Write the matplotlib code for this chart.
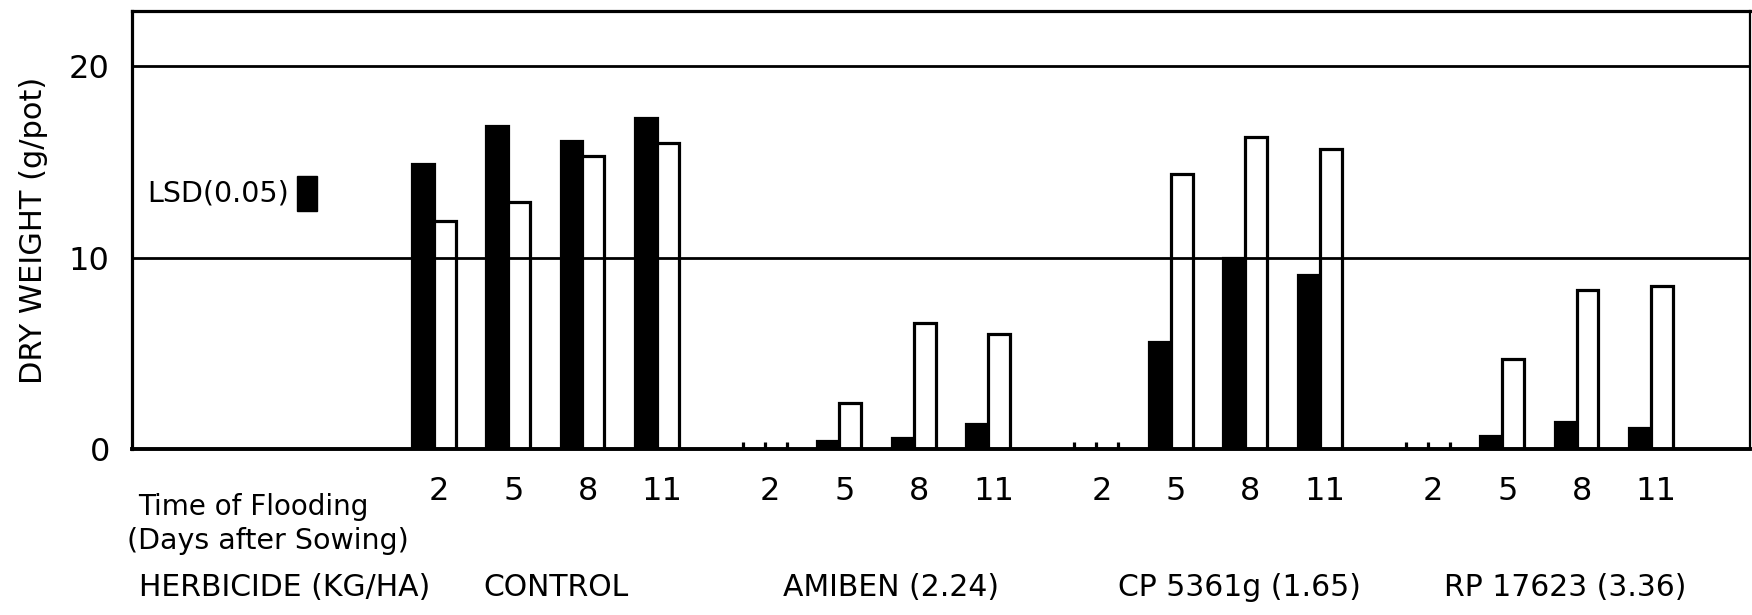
import matplotlib
matplotlib.use("Agg")
import matplotlib.pyplot as plt
import numpy as np

# ---- data ----
groups = ["CONTROL", "AMIBEN (2.24)", "CP 5361g (1.65)", "RP 17623 (3.36)"]
times = ["2", "5", "8", "11"]
black_vals = [
    [14.9, 16.9, 16.1, 17.3],   # CONTROL
    [0.0, 0.4, 0.6, 1.3],       # AMIBEN
    [0.0, 5.6, 10.0, 9.1],      # CP 5361g
    [0.0, 0.7, 1.4, 1.1],       # RP 17623
]
white_vals = [
    [11.9, 12.9, 15.3, 16.0],
    [0.0, 2.4, 6.6, 6.0],
    [0.0, 14.4, 16.3, 15.7],
    [0.0, 4.7, 8.3, 8.5],
]
lsd_value = 1.8
yticks = [0, 10, 20]

# ---- layout ----
plt.rcParams['font.family'] = ['DejaVu Sans']
fig = plt.figure(figsize=(17.52, 6.15), dpi=100)
ax_left, ax_right, ax_top, ax_bottom = 132, 1750, 11, 449
ax = fig.add_axes([ax_left/1752, 1 - ax_bottom/615, (ax_right-ax_left)/1752, (ax_bottom-ax_top)/615])
ax_h = ax_bottom - ax_top

group_step = 4.45
w = 0.295
lw = 2.3

centers = np.array([g * group_step + i for g in range(len(groups)) for i in range(len(times))])
bv = np.array(black_vals).ravel()
wv = np.array(white_vals).ravel()

ax.bar(centers - w/2, bv, width=w, color="black", edgecolor="black", linewidth=lw, zorder=3)
ax.bar(centers + w/2, wv, width=w, color="white", edgecolor="black", linewidth=lw, zorder=3)

# zero-height bars show only their edges as tiny stubs
for c, b, v in zip(centers, bv, wv):
    if b == 0 and v == 0:
        ax.vlines([c - w, c, c + w], 0, 0.35, colors="black", linewidth=lw, zorder=4)

# gridlines (drawn across the bars, as in the original)
for yv in yticks[1:]:
    ax.axhline(yv, color="black", linewidth=2.0, zorder=5)

ax.set_xlim(-4.05, 17.68)
ax.set_ylim(0, 22.9)
ax.set_yticks(yticks)
ax.set_yticklabels([str(t) for t in yticks], fontsize=23)
ax.tick_params(axis="y", length=0, pad=16)
ax.set_xticks([])
for s in ax.spines.values():
    s.set_linewidth(2.3)
    s.set_zorder(6)
ax.spines["bottom"].set_linewidth(2.8)
ax.spines["right"].set_linewidth(1.6)

ax.set_ylabel("DRY WEIGHT (g/pot)", fontsize=22)
ax.yaxis.set_label_coords((48 - ax_left) / (ax_right - ax_left), 0.5)

# LSD marker
ax.bar(-1.70, lsd_value, bottom=12.45, width=0.28, color="black", edgecolor="black", zorder=3)
ax.text(-3.85, 13.35, "LSD(0.05)", fontsize=20.5, va="center", ha="left")

# labels below axis
trans = ax.get_xaxis_transform()
def ay(py):
    return -(py - ax_bottom) / ax_h

for idx, c in enumerate(centers):
    ax.text(c + 0.07, ay(492), times[idx % 4], transform=trans, fontsize=23,
            ha="center", va="center")

ax.text(-3.97, ay(507), "Time of Flooding", transform=trans, fontsize=20,
        ha="left", va="center")
ax.text(-4.12, ay(541), "(Days after Sowing)", transform=trans, fontsize=20.5,
        ha="left", va="center")
ax.text(-3.95, ay(588), "HERBICIDE (KG/HA)", transform=trans, fontsize=21.5,
        ha="left", va="center")
group_label_shift = [0.15, 0.2, 0.42, 0.35]
for g, name in enumerate(groups):
    gc = g * group_step + 1.5 + group_label_shift[g]
    ax.text(gc, ay(588), name, transform=trans, fontsize=21.5,
            ha="center", va="center")

fig.savefig("out.png", dpi=100)
